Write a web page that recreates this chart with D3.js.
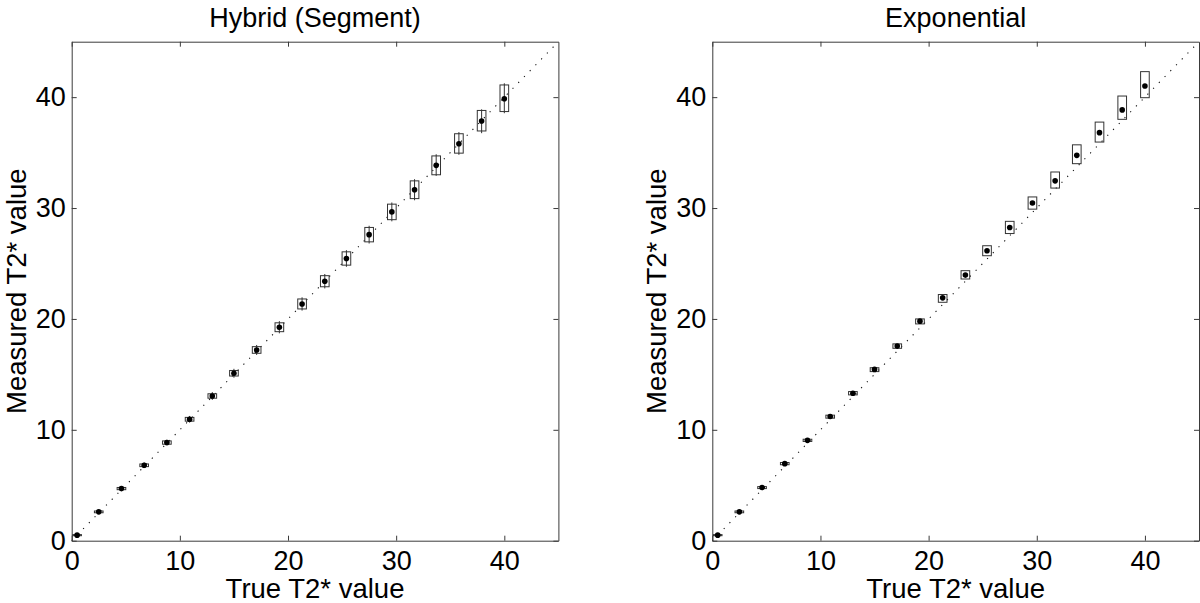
<!DOCTYPE html>
<html>
<head>
<meta charset="utf-8">
<script src="https://cdn.jsdelivr.net/npm/d3@7"></script>
<style>
  html, body { margin: 0; padding: 0; background: #fff; }
  svg { display: block; }
  text { font-family: "Liberation Sans", Arial, Helvetica, sans-serif; fill: #000; }
</style>
</head>
<body>
<svg id="chart" width="1200" height="603"></svg>
<script>
// ---- data ----
const panelTitles = ["Hybrid (Segment)", "Exponential"];
const xAxisLabel = "True T2* value";
const yAxisLabel = "Measured T2* value";
const tickValues = [0, 10, 20, 30, 40];
const axisDomain = [0, 45];

const trueT2 = [0.5, 2.5, 4.6, 6.7, 8.8, 10.9, 13.0, 15.0, 17.1, 19.2, 21.3, 23.4, 25.4, 27.5, 29.6, 31.7, 33.7, 35.8, 37.9, 40.0];

const hybridMean = [0.5, 2.6, 4.7, 6.8, 8.85, 10.95, 13.05, 15.1, 17.2, 19.25, 21.35, 23.4, 25.45, 27.6, 29.65, 31.65, 33.85, 35.8, 37.85, 39.85];
const hybridQ1   = [0.45, 2.52, 4.6, 6.68, 8.7, 10.78, 12.85, 14.85, 16.9, 18.85, 20.9, 22.9, 24.85, 26.95, 28.95, 30.85, 33.0, 34.95, 36.95, 38.7];
const hybridQ3   = [0.55, 2.68, 4.8, 6.92, 9.0, 11.12, 13.25, 15.35, 17.5, 19.65, 21.8, 23.9, 26.05, 28.25, 30.35, 32.45, 34.7, 36.7, 38.8, 41.1];
const hybridLo   = [0.4, 2.45, 4.5, 6.55, 8.6, 10.65, 12.7, 14.7, 16.75, 18.7, 20.75, 22.75, 24.7, 26.8, 28.8, 30.7, 32.9, 34.8, 36.75, 38.55];
const hybridHi   = [0.6, 2.75, 4.9, 7.05, 9.1, 11.25, 13.4, 15.5, 17.65, 19.8, 21.95, 24.05, 26.2, 28.4, 30.5, 32.6, 34.85, 36.85, 38.9, 41.25];

const expMean = [0.5, 2.6, 4.8, 6.95, 9.05, 11.2, 13.3, 15.45, 17.55, 19.8, 21.9, 23.95, 26.15, 28.25, 30.45, 32.45, 34.75, 36.8, 38.85, 41.0];
const expQ1   = [0.45, 2.52, 4.7, 6.85, 8.95, 11.05, 13.15, 15.25, 17.35, 19.55, 21.5, 23.6, 25.7, 27.7, 29.9, 31.8, 34.0, 35.95, 38.0, 39.95];
const expQ3   = [0.55, 2.68, 4.88, 7.05, 9.15, 11.32, 13.45, 15.6, 17.75, 20.0, 22.2, 24.35, 26.6, 28.8, 31.0, 33.25, 35.7, 37.75, 40.1, 42.3];

const boxHalfWidth = 0.4; // in data units of x

// ---- layout ----
const svg = d3.select("#chart");
const panels = [
  { left: 71.7, right: 558.4, title: panelTitles[0], mean: hybridMean, q1: hybridQ1, q3: hybridQ3, lo: hybridLo, hi: hybridHi },
  { left: 712.3, right: 1199, title: panelTitles[1], mean: expMean, q1: expQ1, q3: expQ3, lo: null, hi: null }
];
const plotTop = 41.7, plotBottom = 540.7;
const axisColor = "#3a3a3a";
const fontFamily = '"Liberation Sans", Arial, sans-serif';

panels.forEach(p => {
  const x = d3.scaleLinear().domain(axisDomain).range([p.left, p.right]);
  const y = d3.scaleLinear().domain(axisDomain).range([plotBottom, plotTop]);
  const g = svg.append("g");

  // identity dotted line
  g.append("path")
    .datum(axisDomain.map(v => [v, v]))
    .attr("d", d3.line().x(d => x(d[0])).y(d => y(d[1])))
    .attr("fill", "none")
    .attr("stroke", "#111")
    .attr("stroke-width", 1.1)
    .attr("stroke-dasharray", "1.2,7");

  const styleAxis = sel => {
    sel.selectAll("path.domain").attr("stroke", axisColor).attr("stroke-width", 1);
    sel.selectAll(".tick line").attr("stroke", axisColor).attr("stroke-width", 1);
    sel.selectAll(".tick text").attr("font-size", 27).attr("font-family", fontFamily).attr("fill", "#000");
  };

  g.append("g").attr("transform", `translate(0,${plotBottom})`)
    .call(d3.axisBottom(x).tickValues(tickValues).tickSizeInner(-5).tickSizeOuter(0).tickPadding(10))
    .call(styleAxis);
  g.append("g").attr("transform", `translate(0,${plotTop})`)
    .call(d3.axisTop(x).tickValues(tickValues).tickSizeInner(-5).tickSizeOuter(0).tickFormat(""))
    .call(styleAxis);
  g.append("g").attr("transform", `translate(${p.left},0)`)
    .call(d3.axisLeft(y).tickValues(tickValues).tickSizeInner(-5).tickSizeOuter(0).tickPadding(6))
    .call(styleAxis);
  g.append("g").attr("transform", `translate(${p.right},0)`)
    .call(d3.axisRight(y).tickValues(tickValues).tickSizeInner(-5).tickSizeOuter(0).tickFormat(""))
    .call(styleAxis);

  const idx = d3.range(trueT2.length);

  // whiskers (only the hybrid panel shows them)
  if (p.lo && p.hi) {
    g.append("g").selectAll("line").data(idx).join("line")
      .attr("x1", i => x(trueT2[i])).attr("x2", i => x(trueT2[i]))
      .attr("y1", i => y(p.lo[i])).attr("y2", i => y(p.hi[i]))
      .attr("stroke", "#333").attr("stroke-width", 1);
  }

  // boxes
  g.append("g").selectAll("rect").data(idx).join("rect")
    .attr("x", i => x(trueT2[i] - boxHalfWidth))
    .attr("width", i => x(trueT2[i] + boxHalfWidth) - x(trueT2[i] - boxHalfWidth))
    .attr("y", i => y(p.q3[i]))
    .attr("height", i => Math.max(1, y(p.q1[i]) - y(p.q3[i])))
    .attr("fill", "none").attr("stroke", "#333").attr("stroke-width", 1);

  // mean dots
  g.append("g").selectAll("circle").data(idx).join("circle")
    .attr("cx", i => x(trueT2[i])).attr("cy", i => y(p.mean[i]))
    .attr("r", 2.8).attr("fill", "#000");

  const cx = (p.left + p.right) / 2;
  g.append("text").attr("x", cx).attr("y", 27).attr("text-anchor", "middle")
    .attr("font-size", 27).text(p.title);
  g.append("text").attr("x", cx).attr("y", 598).attr("text-anchor", "middle")
    .attr("font-size", 27.5).text(xAxisLabel);
  g.append("text")
    .attr("transform", `translate(${p.left - 46},${(plotTop + plotBottom) / 2}) rotate(-90)`)
    .attr("text-anchor", "middle").attr("font-size", 27.5).text(yAxisLabel);
});
</script>
</body>
</html>
